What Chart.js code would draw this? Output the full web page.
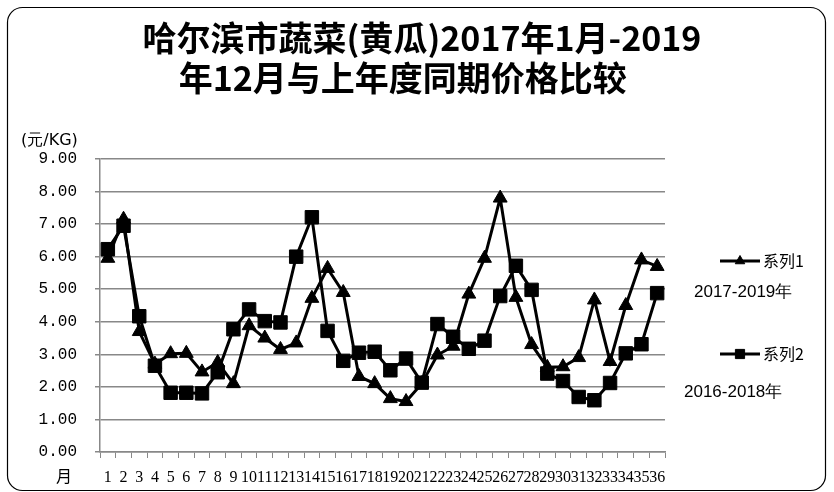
<!DOCTYPE html>
<html>
<head>
<meta charset="utf-8">
<script src="https://cdn.jsdelivr.net/npm/chart.js@4.4.1/dist/chart.umd.min.js"></script>
<style>
  html, body { margin: 0; padding: 0; background: #fff; }
  #wrap { width: 834px; height: 492px; position: relative; }
</style>
</head>
<body>
<div id="wrap"><canvas id="priceChart" width="834" height="492"></canvas></div>
<script>
// months 1..36
const months = [];
for (let i = 1; i <= 36; i++) months.push(String(i));

// 系列1: 2017-2019年 (triangles)
const series1 = [5.95, 7.15, 3.70, 2.70, 3.02, 3.03, 2.46, 2.75, 2.10, 3.88, 3.50, 3.15,
                 3.35, 4.72, 5.64, 4.90, 2.32, 2.10, 1.64, 1.55, 2.10, 2.98, 3.25, 4.85,
                 5.95, 7.80, 4.75, 3.30, 2.60, 2.62, 2.90, 4.67, 2.78, 4.50, 5.90, 5.70];

// 系列2: 2016-2018年 (squares)
const series2 = [6.23, 6.95, 4.17, 2.65, 1.82, 1.82, 1.80, 2.45, 3.77, 4.38, 4.02, 3.98,
                 6.00, 7.21, 3.72, 2.80, 3.05, 3.08, 2.51, 2.87, 2.13, 3.93, 3.54, 3.17,
                 3.42, 4.79, 5.72, 4.98, 2.41, 2.18, 1.69, 1.59, 2.12, 3.03, 3.31, 4.88];

// trailing spaces shift the second line left, as in the original
const titleLines = ['哈尔滨市蔬菜(黄瓜)2017年1月-2019', '年12月与上年度同期价格比较     '];
const seriesNames = ['系列1', '系列2'];
const seriesNotes = ['2017-2019年', '2016-2018年'];

// frame, axis captions and the side legend
const decorPlugin = {
    id: 'decor',
    beforeDraw(chart) {
        const c = chart.ctx;
        c.save();
        c.fillStyle = '#fff';
        c.fillRect(0, 0, chart.width, chart.height);
        c.beginPath();
        c.roundRect(7.5, 7.5, 818, 483, 15);
        c.strokeStyle = '#000';
        c.lineWidth = 1.2;
        c.stroke();
        c.restore();
    },
    afterDraw(chart) {
        const c = chart.ctx;
        c.save();
        c.fillStyle = '#000';
        c.textBaseline = 'middle';
        c.font = '16px "DejaVu Sans"';
        c.textAlign = 'left';
        c.fillText('(元/KG)', 21, 141);
        c.font = '16px "Noto Sans CJK SC"';
        c.fillText('月', 56, 476);

        const rows = [261, 354];
        const notes = [{ x: 694, y: 292 }, { x: 684, y: 392 }];
        chart.data.datasets.forEach((ds, i) => {
            const y = rows[i];
            c.beginPath();
            c.moveTo(720, y);
            c.lineTo(760, y);
            c.strokeStyle = '#000';
            c.lineWidth = 3;
            c.stroke();
            c.fillStyle = '#000';
            c.lineWidth = 1;
            Chart.helpers.drawPoint(c, {
                pointStyle: ds.pointStyle,
                radius: i === 0 ? 5.5 : 6.5,
                rotation: 0,
                borderWidth: 1
            }, 740, y);
            c.font = '16px "Noto Sans CJK SC"';
            c.fillText(seriesNames[i], 763, y);
            c.font = '17px "Liberation Sans"';
            c.fillText(seriesNotes[i], notes[i].x, notes[i].y);
        });
        c.restore();
    }
};

const ctx = document.getElementById('priceChart').getContext('2d');
const priceChart = new Chart(ctx, {
    type: 'line',
    data: {
        labels: months,
        datasets: [{
            label: seriesNames[0],
            data: series1,
            borderColor: '#000',
            backgroundColor: '#000',
            borderWidth: 3,
            pointStyle: 'triangle',
            pointRadius: 8,
            pointBorderWidth: 1,
            pointBorderColor: '#000',
            pointBackgroundColor: '#000',
            tension: 0
        }, {
            label: seriesNames[1],
            data: series2,
            borderColor: '#000',
            backgroundColor: '#000',
            borderWidth: 3,
            pointStyle: 'rect',
            pointRadius: 9.5,
            pointBorderWidth: 1,
            pointBorderColor: '#000',
            pointBackgroundColor: '#000',
            tension: 0
        }]
    },
    options: {
        responsive: false,
        animation: false,
        events: [],
        layout: { padding: { left: 10, right: 0, top: 0, bottom: 0 } },
        plugins: {
            legend: { display: false },
            tooltip: { enabled: false },
            title: {
                display: true,
                text: titleLines,
                color: '#000',
                font: { family: '"Noto Sans CJK SC"', size: 34, weight: 'bold', lineHeight: 40 / 34 },
                padding: { top: 18, bottom: 61 }
            }
        },
        scales: {
            x: {
                offset: true,
                afterFit: (scale) => { scale.height = 40; },
                grid: { offset: true, drawOnChartArea: false, drawTicks: true, tickLength: 6, color: '#888' },
                border: { color: '#888', width: 1.5 },
                ticks: {
                    autoSkip: false,
                    maxRotation: 0,
                    minRotation: 0,
                    padding: 10,
                    color: '#000',
                    font: { family: '"Liberation Serif"', size: 16 }
                }
            },
            y: {
                min: 0,
                max: 9,
                afterFit: (scale) => { scale.width = 90; },
                grid: { color: '#888', lineWidth: 1.5, tickLength: 5 },
                border: { color: '#888', width: 1.5 },
                ticks: {
                    stepSize: 1,
                    padding: 18,
                    color: '#000',
                    font: { family: '"Liberation Mono"', size: 16 },
                    callback: (v) => Number(v).toFixed(2)
                }
            },
            // empty right-hand strip that holds the side legend
            side: {
                position: 'right',
                min: 0,
                max: 9,
                afterFit: (scale) => { scale.width = 169; },
                grid: { display: false, drawOnChartArea: false },
                border: { display: false },
                ticks: { display: false }
            }
        }
    },
    plugins: [decorPlugin]
});
</script>
</body>
</html>
